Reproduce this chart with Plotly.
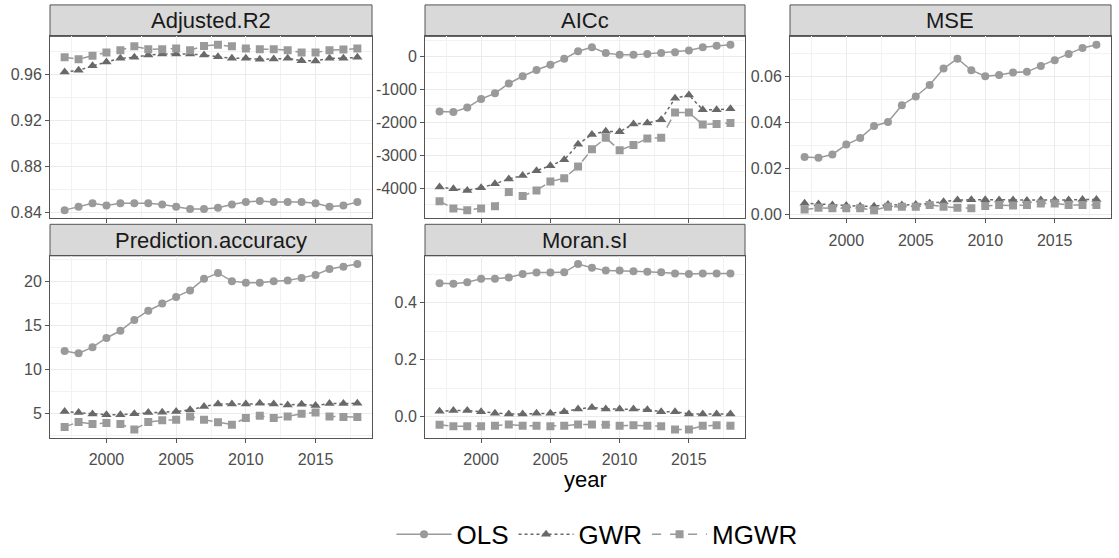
import math
import plotly.graph_objects as go

# ---- data -------------------------------------------------------------
years = [1997, 1998, 1999, 2000, 2001, 2002, 2003, 2004, 2005, 2006, 2007,
         2008, 2009, 2010, 2011, 2012, 2013, 2014, 2015, 2016, 2017, 2018]

models = ["OLS", "GWR", "MGWR"]
metrics = ["Adjusted.R2", "AICc", "MSE", "Prediction.accuracy", "Moran.sI"]

adj_r2_ols = [0.842, 0.845, 0.848, 0.846, 0.848, 0.848, 0.848, 0.847, 0.845, 0.843, 0.843,
              0.844, 0.847, 0.849, 0.850, 0.849, 0.849, 0.849, 0.848, 0.845, 0.846, 0.849]
adj_r2_gwr = [0.9623, 0.9637, 0.9676, 0.9710, 0.9741, 0.9750, 0.9770, 0.9778, 0.9778, 0.9778, 0.9770,
              0.9755, 0.9741, 0.9741, 0.9733, 0.9735, 0.9741, 0.9721, 0.9719, 0.9741, 0.9741, 0.9750]
adj_r2_mgwr = [0.9750, 0.9733, 0.9764, 0.9792, 0.9812, 0.9846, 0.9820, 0.9820, 0.9826, 0.9812, 0.9848,
               0.9860, 0.9846, 0.9826, 0.9820, 0.9820, 0.9812, 0.9792, 0.9792, 0.9812, 0.9817, 0.9826]

aicc_ols = [-1670, -1690, -1550, -1290, -1120, -820, -600, -410, -250, -70, 160,
            280, 110, 50, 50, 80, 110, 130, 180, 280, 330, 360]
aicc_gwr = [-3970, -4020, -4070, -3990, -3870, -3720, -3620, -3470, -3320, -3140, -2670,
            -2370, -2270, -2290, -2050, -2020, -1920, -1270, -1170, -1620, -1620, -1590]
aicc_mgwr = [-4400, -4620, -4670, -4620, -4550, -4120, -4240, -4070, -3800, -3700, -3340,
             -2820, -2470, -2850, -2690, -2490, -2470, -1700, -1700, -2070, -2050, -2020]

mse_ols = [0.0249, 0.0246, 0.0260, 0.0303, 0.0331, 0.0384, 0.0401, 0.0474, 0.0512, 0.0562, 0.0633,
           0.0676, 0.0626, 0.0600, 0.0605, 0.0616, 0.0619, 0.0644, 0.0669, 0.0697, 0.0723, 0.0737]
mse_gwr = [0.0048, 0.0045, 0.0040, 0.0038, 0.0035, 0.0035, 0.0042, 0.0040, 0.0042, 0.0048, 0.0055,
           0.0062, 0.0063, 0.0063, 0.0062, 0.0062, 0.0060, 0.0062, 0.0062, 0.0062, 0.0064, 0.0064]
mse_mgwr = [0.0021, 0.0028, 0.0026, 0.0026, 0.0026, 0.0018, 0.0033, 0.0033, 0.0033, 0.0040, 0.0033,
            0.0028, 0.0026, 0.0036, 0.0040, 0.0038, 0.0040, 0.0047, 0.0047, 0.0040, 0.0040, 0.0040]

pred_ols = [12.09, 11.83, 12.54, 13.58, 14.40, 15.63, 16.68, 17.50, 18.25, 18.99, 20.30,
            20.97, 20.04, 19.85, 19.85, 20.04, 20.11, 20.41, 20.75, 21.42, 21.68, 21.98]
pred_gwr = [5.22, 5.11, 4.93, 4.85, 4.85, 4.96, 5.11, 5.15, 5.22, 5.41, 5.78,
            6.08, 6.08, 6.08, 6.16, 6.08, 5.97, 6.04, 5.90, 6.12, 6.12, 6.16]
pred_mgwr = [3.47, 4.03, 3.81, 3.92, 3.81, 3.17, 4.03, 4.22, 4.29, 4.66, 4.29,
             3.99, 3.73, 4.48, 4.74, 4.48, 4.66, 4.96, 5.11, 4.66, 4.59, 4.59]

moran_ols = [0.469, 0.467, 0.472, 0.484, 0.484, 0.489, 0.501, 0.506, 0.506, 0.507, 0.536,
             0.523, 0.513, 0.513, 0.511, 0.509, 0.507, 0.503, 0.501, 0.503, 0.503, 0.503]
moran_gwr = [0.018, 0.021, 0.021, 0.017, 0.011, 0.009, 0.009, 0.011, 0.011, 0.017, 0.026,
             0.032, 0.026, 0.026, 0.026, 0.024, 0.017, 0.017, 0.009, 0.009, 0.009, 0.009]
moran_mgwr = [-0.029, -0.034, -0.034, -0.034, -0.033, -0.028, -0.033, -0.033, -0.034, -0.033, -0.028,
              -0.028, -0.029, -0.033, -0.031, -0.033, -0.034, -0.046, -0.046, -0.033, -0.031, -0.033]

series = {
    "Adjusted.R2": [adj_r2_ols, adj_r2_gwr, adj_r2_mgwr],
    "AICc": [aicc_ols, aicc_gwr, aicc_mgwr],
    "MSE": [mse_ols, mse_gwr, mse_mgwr],
    "Prediction.accuracy": [pred_ols, pred_gwr, pred_mgwr],
    "Moran.sI": [moran_ols, moran_gwr, moran_mgwr],
}

# y tick spacing (major, minor, label decimals) per facet
y_steps = {
    "Adjusted.R2": (0.04, 0.02, 2),
    "AICc": (1000, 500, 0),
    "MSE": (0.02, 0.01, 2),
    "Prediction.accuracy": (5, 2.5, 0),
    "Moran.sI": (0.2, 0.1, 1),
}

# ---- layout geometry (pixels) ----------------------------------------
W, H = 1119, 558
col_x = [(50, 372), (425, 745), (790, 1111)]
row_y = [(37, 222), (260, 445)]
strip_h = 32
facet_pos = [(0, 0), (0, 1), (0, 2), (1, 0), (1, 1)]
# x tick labels appear only at the bottom of each column
show_x_labels = [False, False, True, True, True]

FONT = "Liberation Sans, Arial, sans-serif"

styles = {
    "OLS": dict(color="#9a9a9a", dash="solid", symbol="circle", size=8),
    "GWR": dict(color="#696969", dash="dot", symbol="triangle-up", size=9),
    "MGWR": dict(color="#9a9a9a", dash="dash", symbol="square", size=8),
}


def px_x(v):
    return v / W


def px_y(v):
    return 1 - v / H


def break_ticks(lo, hi, step, decimals):
    """Multiples of step inside [lo, hi], labelled with a plain hyphen minus."""
    first = math.ceil(lo / step - 1e-9)
    last = math.floor(hi / step + 1e-9)
    vals = [round(n * step, 10) for n in range(first, last + 1)]
    text = [f"{abs(v) if v == 0 else v:.{decimals}f}" for v in vals]
    return vals, text


fig = go.Figure()

x_pad = (years[-1] - years[0]) * 0.05
x_range = [years[0] - x_pad, years[-1] + x_pad]

shapes = []
annotations = []

for i, metric in enumerate(metrics):
    k = i + 1
    r, c = facet_pos[i]
    x0, x1 = col_x[c]
    y0, y1 = row_y[r]
    xa = "x" if k == 1 else f"x{k}"
    ya = "y" if k == 1 else f"y{k}"

    vals = series[metric]
    for m, v in zip(models, vals):
        s = styles[m]
        fig.add_trace(go.Scatter(
            x=years, y=v, mode="lines+markers", name=m,
            legendgroup=m, showlegend=(i == 0),
            line=dict(color=s["color"], dash=s["dash"], width=1.5),
            marker=dict(color=s["color"], symbol=s["symbol"], size=s["size"]),
            xaxis=xa, yaxis=ya,
        ))

    lo = min(min(v) for v in vals)
    hi = max(max(v) for v in vals)
    pad = (hi - lo) * 0.05
    y_range = [lo - pad, hi + pad]
    major, minor, dec = y_steps[metric]
    tvals, ttext = break_ticks(y_range[0], y_range[1], major, dec)

    axis_common = dict(
        showline=True, mirror=True, linecolor="#555555", linewidth=1,
        ticks="outside", ticklen=4, tickcolor="#555555", tickwidth=1,
        gridcolor="#EBEBEB", gridwidth=1, zeroline=False,
        tickfont=dict(family=FONT, size=16, color="#4d4d4d"),
    )

    fig.layout[f"xaxis{'' if k == 1 else k}"] = dict(
        axis_common,
        domain=[px_x(x0), px_x(x1)], anchor=ya, range=x_range,
        tick0=2000, dtick=5, showticklabels=show_x_labels[i],
        ticklabelstandoff=3,
        minor=dict(dtick=2.5, tick0=2000, showgrid=True, gridcolor="#F2F2F2", gridwidth=0.6, ticks=""),
    )
    fig.layout[f"yaxis{'' if k == 1 else k}"] = dict(
        axis_common,
        domain=[px_y(y1), px_y(y0)], anchor=xa, range=y_range,
        tickmode="array", tickvals=tvals, ticktext=ttext,
        minor=dict(dtick=minor, tick0=0, showgrid=True, gridcolor="#F2F2F2", gridwidth=0.6, ticks=""),
    )

    # facet strip
    shapes.append(dict(
        type="rect", xref="paper", yref="paper",
        x0=px_x(x0), x1=px_x(x1), y0=px_y(y0), y1=px_y(y0 - strip_h),
        fillcolor="#D9D9D9", line=dict(color="#555555", width=1), layer="below",
    ))
    annotations.append(dict(
        text=metric, xref="paper", yref="paper",
        x=(px_x(x0) + px_x(x1)) / 2, y=px_y(y0 - strip_h / 2),
        xanchor="center", yanchor="middle", showarrow=False,
        font=dict(family=FONT, size=22, color="#1a1a1a"),
    ))

# shared x-axis title
annotations.append(dict(
    text="year", xref="paper", yref="paper",
    x=(px_x(col_x[1][0]) + px_x(col_x[1][1])) / 2, y=px_y(487),
    xanchor="center", yanchor="middle", showarrow=False,
    font=dict(family=FONT, size=22, color="#000000"),
))

fig.update_layout(
    width=W, height=H,
    margin=dict(l=0, r=0, t=0, b=0),
    paper_bgcolor="white", plot_bgcolor="rgba(0,0,0,0)",
    shapes=shapes, annotations=annotations,
    showlegend=True,
    legend=dict(
        orientation="h", x=597 / W, xanchor="center", y=px_y(543), yanchor="middle",
        font=dict(family=FONT, size=26, color="#000000"),
        itemwidth=55, bgcolor="rgba(0,0,0,0)",
    ),
)

fig.write_html("out.html")
